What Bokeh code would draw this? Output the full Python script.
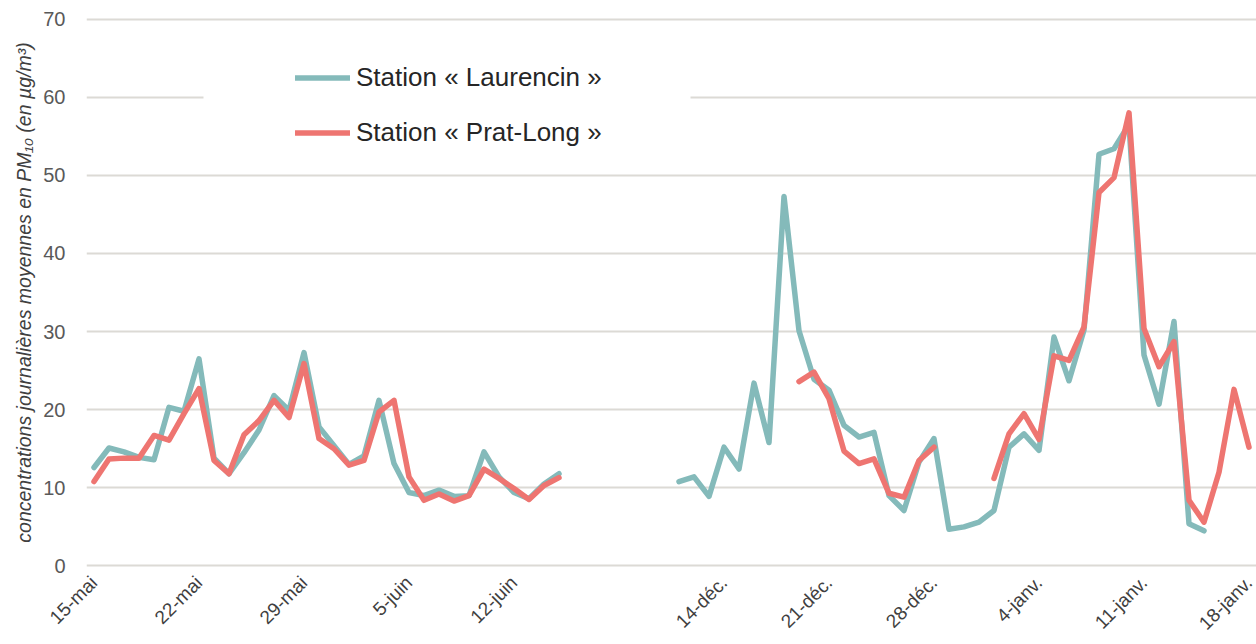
import math
from bokeh.plotting import figure
from bokeh.models import Range1d, FixedTicker, Legend, LegendItem, BoxAnnotation
from bokeh.embed import file_html
from bokeh.resources import INLINE

nan = float("nan")

# ---- categories (one category per day; blank categories between the two campaigns)
tick_step = 7
gap_days = 7
tick_labels = ["15-mai", "22-mai", "29-mai", "5-juin", "12-juin", "",
               "14-déc.", "21-déc.", "28-déc.", "4-janv.", "11-janv.", "18-janv."]

# ---- series: campaign 1 (15 mai -> 15 juin), campaign 2 (11 déc. -> 18 janv.)
laurencin_mai_juin = [12.6, 15.1, 14.6, 13.9, 13.6, 20.3, 19.8, 26.5, 13.8, 11.8,
                      14.5, 17.4, 21.8, 19.9, 27.3, 17.8, 15.4, 13.0, 14.1, 21.2,
                      13.1, 9.4, 9.0, 9.7, 8.9, 9.0, 14.6, 11.4, 9.4, 8.6, 10.5, 11.8]
pratlong_mai_juin = [10.8, 13.7, 13.8, 13.8, 16.7, 16.1, 19.5, 22.7, 13.5, 11.8,
                     16.8, 18.6, 21.2, 19.0, 25.9, 16.3, 15.0, 12.9, 13.5, 19.7,
                     21.2, 11.4, 8.4, 9.2, 8.3, 9.0, 12.4, 11.2, 9.9, 8.5, 10.3, 11.3]
laurencin_dec_janv = [10.8, 11.4, 8.9, 15.2, 12.4, 23.4, 15.8, 47.3, 30.1, 23.9,
                      22.5, 18.0, 16.5, 17.1, 9.0, 7.1, 13.3, 16.3, 4.7, 5.0,
                      5.6, 7.1, 15.2, 16.9, 14.8, 29.3, 23.7, 30.2, 52.7, 53.4,
                      56.5, 27.0, 20.7, 31.3, 5.4, 4.5, nan, nan, nan]
pratlong_dec_janv = [nan, nan, nan, nan, nan, nan, nan, nan, 23.6, 24.8,
                     21.4, 14.7, 13.1, 13.7, 9.3, 8.8, 13.5, 15.2, nan, nan,
                     nan, 11.2, 16.9, 19.5, 16.2, 26.9, 26.3, 30.6, 47.8, 49.7,
                     58.0, 30.4, 25.5, 28.7, 8.4, 5.6, 12.0, 22.6, 15.2]

laurencin = laurencin_mai_juin + [nan] * gap_days + laurencin_dec_janv
pratlong = pratlong_mai_juin + [nan] * gap_days + pratlong_dec_janv
x = list(range(len(laurencin)))

TEAL = "#84BABA"
RED = "#EE7571"
FONT = "Liberation Sans"

p = figure(width=1256, height=644, output_backend="svg", toolbar_location=None,
           x_range=Range1d(-0.5, len(x) - 0.5), y_range=Range1d(-0.2, 70.2),
           min_border_left=86, min_border_right=0, min_border_top=17, min_border_bottom=77)
p.outline_line_color = None
p.background_fill_color = "white"
p.border_fill_color = "white"

# grid
p.xgrid.grid_line_color = None
p.ygrid.grid_line_color = "#DCDAD5"
p.ygrid.grid_line_width = 2
p.ygrid.ticker = FixedTicker(ticks=list(range(0, 71, 10)))

# y axis
p.yaxis.ticker = FixedTicker(ticks=list(range(0, 71, 10)))
p.yaxis.axis_line_color = None
p.yaxis.major_tick_line_color = None
p.yaxis.minor_tick_line_color = None
p.yaxis.major_tick_out = 0
p.yaxis.major_label_standoff = 21
p.yaxis.major_label_text_font = FONT
p.yaxis.major_label_text_font_size = "20px"
p.yaxis.major_label_text_color = "#595959"
p.yaxis.axis_label = "concentrations journalières moyennes en PM₁₀ (en µg/m³)"
p.yaxis.axis_label_text_font = FONT
p.yaxis.axis_label_text_font_style = "italic"
p.yaxis.axis_label_text_font_size = "19.5px"
p.yaxis.axis_label_text_color = "#404040"
p.yaxis.axis_label_standoff = 5

# x axis
ticks = [i * tick_step for i in range(len(tick_labels))]
p.xaxis.ticker = FixedTicker(ticks=ticks)
p.xaxis.major_label_overrides = {t: lab for t, lab in zip(ticks, tick_labels)}
p.xaxis.axis_line_color = None
p.xaxis.major_tick_line_color = None
p.xaxis.minor_tick_line_color = None
p.xaxis.major_tick_out = 0
p.xaxis.major_label_standoff = 12
p.xaxis.major_label_orientation = math.pi / 4
p.xaxis.major_label_text_font = FONT
p.xaxis.major_label_text_font_size = "19px"
p.xaxis.major_label_text_color = "#404040"

# white patch behind the legend (hides part of the 60 gridline, as in the reference)
p.add_layout(BoxAnnotation(left=203, right=690, top=45, bottom=155,
                           left_units="canvas", right_units="canvas",
                           top_units="canvas", bottom_units="canvas",
                           fill_color="white", fill_alpha=1.0, line_color=None,
                           level="underlay"))

r1 = p.line(x, laurencin, line_color=TEAL, line_width=5.5, line_join="round", line_cap="round")
r2 = p.line(x, pratlong, line_color=RED, line_width=5.5, line_join="round", line_cap="round")

legend = Legend(items=[LegendItem(label="Station « Laurencin »", renderers=[r1]),
                       LegendItem(label="Station « Prat-Long »", renderers=[r2])],
                location=(209, 418), padding=0, margin=0, spacing=22,
                glyph_width=55, glyph_height=33, label_height=33, label_standoff=6,
                label_text_font=FONT, label_text_font_size="26px",
                label_text_color="#262626", border_line_color=None,
                background_fill_alpha=0)
p.add_layout(legend)

open("out.html", "w").write(file_html(p, INLINE))
